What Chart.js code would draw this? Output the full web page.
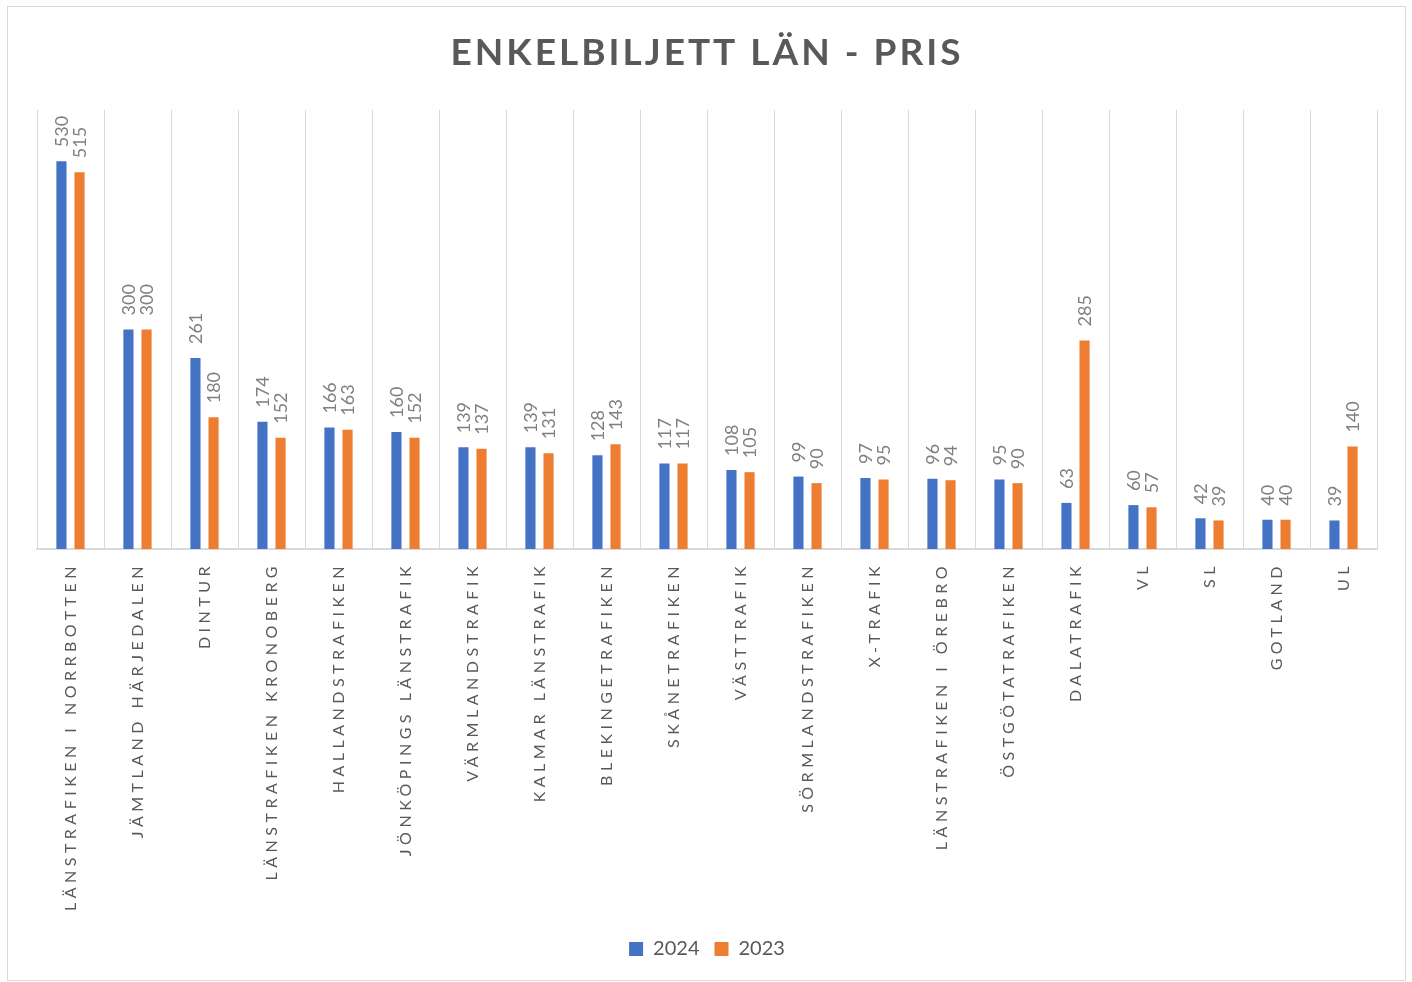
<!DOCTYPE html>
<html><head><meta charset="utf-8">
<script src="https://cdn.jsdelivr.net/npm/chart.js@4"></script>
<style>
html,body{margin:0;padding:0;background:#fff;}
#wrap{position:absolute;left:0;top:0;width:1412px;height:982px;}
#frame{position:absolute;left:7px;top:6px;width:1397px;height:973px;border:1px solid #d9d9d9;pointer-events:none;}
</style></head><body>
<div id="wrap"><canvas id="c" width="1412" height="982"></canvas></div>
<div id="frame"></div>
<script>
const categories = [
  'LÄNSTRAFIKEN I NORRBOTTEN','JÄMTLAND HÄRJEDALEN','DINTUR','LÄNSTRAFIKEN KRONOBERG',
  'HALLANDSTRAFIKEN','JÖNKÖPINGS LÄNSTRAFIK','VÄRMLANDSTRAFIK','KALMAR LÄNSTRAFIK',
  'BLEKINGETRAFIKEN','SKÅNETRAFIKEN','VÄSTTRAFIK','SÖRMLANDSTRAFIKEN','X-TRAFIK',
  'LÄNSTRAFIKEN I ÖREBRO','ÖSTGÖTATRAFIKEN','DALATRAFIK','VL','SL','GOTLAND','UL'
];
const values2024 = [530,300,261,174,166,160,139,139,128,117,108,99,97,96,95,63,60,42,40,39];
const values2023 = [515,300,180,152,163,152,137,131,143,117,105,90,95,94,90,285,57,39,40,140];
const seriesNames = ['2024','2023'];
const titleText = 'ENKELBILJETT LÄN - PRIS';
const yMin = 0;
const yMax = 600;

const FONT = 'Lato';

const letterSpacingPlugin = {
  id: 'letterSpacing',
  afterLayout(chart) {
    const wrap = (obj, method, spacing) => {
      if (!obj || obj['__wrapped_' + method]) return;
      const orig = obj[method];
      obj[method] = function (...args) {
        const ctx = chart.ctx;
        const prev = ctx.letterSpacing;
        ctx.letterSpacing = spacing;
        try { return orig.apply(this, args); } finally { ctx.letterSpacing = prev || '0px'; }
      };
      obj['__wrapped_' + method] = true;
    };
    wrap(chart.titleBlock, 'draw', '3px');
    wrap(chart.scales.x, 'drawLabels', '4.5px');
  }
};

const valueLabelPlugin = {
  id: 'valueLabels',
  afterDatasetsDraw(chart) {
    const ctx = chart.ctx;
    ctx.save();
    ctx.letterSpacing = '0px';
    ctx.font = '18px ' + FONT;
    ctx.fillStyle = '#7f7f7f';
    ctx.textAlign = 'left';
    ctx.textBaseline = 'middle';
    chart.data.datasets.forEach((ds, i) => {
      const meta = chart.getDatasetMeta(i);
      meta.data.forEach((bar, j) => {
        ctx.save();
        ctx.translate(bar.x + 1, bar.y - 14);
        ctx.rotate(-Math.PI / 2);
        ctx.fillText(String(ds.data[j]), 0, 0);
        ctx.restore();
      });
    });
    ctx.restore();
  }
};

new Chart(document.getElementById('c'), {
  type: 'bar',
  data: {
    labels: categories,
    datasets: [
      { label: seriesNames[0], data: values2024, backgroundColor: '#4472c4', borderWidth: 0 },
      { label: seriesNames[1], data: values2023, backgroundColor: '#ed7d31', borderWidth: 0 }
    ]
  },
  options: {
    responsive: false,
    animation: false,
    devicePixelRatio: 1,
    datasets: { bar: { categoryPercentage: 0.54, barPercentage: 0.56 } },
    layout: { padding: { left: 37, right: 35, top: 0, bottom: 13 } },
    plugins: {
      title: {
        display: true,
        text: titleText,
        color: '#595959',
        font: { family: FONT, size: 37, weight: 'bold', lineHeight: 1.2 },
        padding: { top: 31, bottom: 34.6 }
      },
      legend: {
        position: 'bottom',
        labels: {
          boxWidth: 14, boxHeight: 14, padding: 15,
          color: '#595959',
          font: { family: FONT, size: 20 }
        }
      },
      tooltip: { enabled: false }
    },
    scales: {
      x: {
        offset: true,
        grid: { display: true, offset: true, color: '#d9d9d9', lineWidth: 1, drawTicks: false, tickLength: 0 },
        border: { display: true, color: '#d9d9d9', width: 2 },
        ticks: {
          autoSkip: false, maxRotation: 90, minRotation: 90, padding: 13,
          color: '#595959', font: { family: FONT, size: 16 }
        },
        afterFit(scale) { scale.height = 375; }
      },
      y: {
        display: false,
        min: yMin, max: yMax,
        grid: { display: false }
      }
    }
  },
  plugins: [letterSpacingPlugin, valueLabelPlugin]
});
</script>
</body></html>
